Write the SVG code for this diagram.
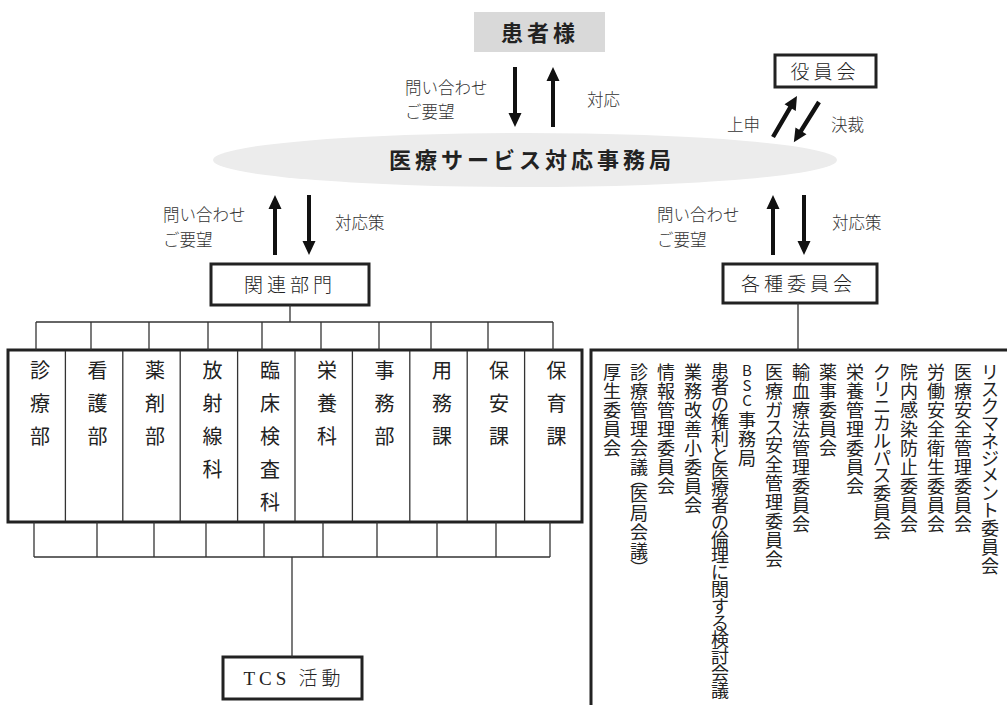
<svg xmlns="http://www.w3.org/2000/svg" width="1007" height="705" viewBox="0 0 1007 705">
<style>
  text { font-family: "Noto Sans CJK JP", "Noto Sans CJK SC", sans-serif; fill: #222; }
  .title { font-size: 22px; font-weight: bold; letter-spacing: 4px; text-anchor: middle; }
  .lbl { font-size: 16.5px; font-weight: 300; fill: #333; }
  .boxt { font-size: 19px; font-weight: 300; letter-spacing: 4px; text-anchor: middle; }
  .thick { fill: #fff; stroke: #222; stroke-width: 3; }
  .thin { fill: none; stroke: #333; stroke-width: 1.3; }
  .dept { font-size: 20px; writing-mode: vertical-rl; text-orientation: upright; letter-spacing: 13px; }
  .com { font-size: 18px; text-anchor: middle; }
  .arr { fill: #111; }
</style>
<defs>
  <path id="arrL" d="M-2,0 V-46 H-6.5 L0,-60 L6.5,-46 H2 V0 Z"/>
  <path id="arrS" d="M-2.2,0 V-34 H-6.5 L0,-47.5 L6.5,-34 H2.2 V0 Z"/>
</defs>

<g id="node-patient">
  <rect x="474" y="12" width="131" height="40" fill="#d9d9d9"/>
  <text class="title" x="540" y="41">患者様</text>
</g>

<g id="node-office">
  <ellipse cx="525" cy="160" rx="312" ry="27" fill="#ececec"/>
  <text class="title" x="532" y="168">医療サービス対応事務局</text>
</g>

<g id="node-board">
  <rect class="thick" x="775" y="55" width="101" height="32" stroke-width="2.5"/>
  <text class="boxt" x="825" y="79">役員会</text>
</g>

<g id="node-related">
  <rect class="thick" x="211" y="264" width="158" height="41" stroke-width="2.5"/>
  <text class="boxt" x="290" y="292">関連部門</text>
</g>

<g id="node-committees">
  <rect class="thick" x="723" y="264" width="154" height="39" stroke-width="2.5"/>
  <text class="boxt" x="798.5" y="291">各種委員会</text>
</g>

<g id="node-departments">
  <rect class="thick" x="8" y="350" width="574" height="172"/>
  <g class="thin">
    <line x1="65.4" y1="351" x2="65.4" y2="521"/>
    <line x1="122.8" y1="351" x2="122.8" y2="521"/>
    <line x1="180.2" y1="351" x2="180.2" y2="521"/>
    <line x1="237.6" y1="351" x2="237.6" y2="521"/>
    <line x1="295" y1="351" x2="295" y2="521"/>
    <line x1="352.4" y1="351" x2="352.4" y2="521"/>
    <line x1="409.8" y1="351" x2="409.8" y2="521"/>
    <line x1="467.2" y1="351" x2="467.2" y2="521"/>
    <line x1="524.6" y1="351" x2="524.6" y2="521"/>
  </g>
  <text class="dept" x="40" y="360">診療部</text>
  <text class="dept" x="97.5" y="360">看護部</text>
  <text class="dept" x="155" y="360">薬剤部</text>
  <text class="dept" x="212.5" y="360">放射線科</text>
  <text class="dept" x="270" y="360">臨床検査科</text>
  <text class="dept" x="327" y="360">栄養科</text>
  <text class="dept" x="384.5" y="360">事務部</text>
  <text class="dept" x="442" y="360">用務課</text>
  <text class="dept" x="499" y="360">保安課</text>
  <text class="dept" x="556.5" y="360">保育課</text>
</g>

<g id="node-committee-list">
  <path d="M591,706 V350 H1010" fill="none" stroke="#222" stroke-width="3"/>
  <text class="com" x="990 990 990 990 990 990 990 990 990 990 990 990" y="378.5 395.8 413.1 430.4 447.7 465 482.3 499.6 516.9 535 554 573">リスクマネジメント委員会</text>
  <text class="com" x="963 963 963 963 963 963 963 963 963" y="379.3 398.3 417.3 436.3 455.3 474.3 493.3 512.3 531.3">医療安全管理委員会</text>
  <text class="com" x="936 936 936 936 936 936 936 936 936" y="379.3 398.3 417.3 436.3 455.3 474.3 493.3 512.3 531.3">労働安全衛生委員会</text>
  <text class="com" x="909 909 909 909 909 909 909 909 909" y="379.3 398.3 417.3 436.3 455.3 474.3 493.3 512.3 531.3">院内感染防止委員会</text>
  <text class="com" x="882 882 882 882 882 882 882 882 882 882" y="378.5 395.8 413.1 430.4 447.7 465 482.3 500.4 519.4 538.4">クリニカルパス委員会</text>
  <text class="com" x="855 855 855 855 855 855 855" y="379.3 398.3 417.3 436.3 455.3 474.3 493.3">栄養管理委員会</text>
  <text class="com" x="828 828 828 828 828" y="379.3 398.3 417.3 436.3 455.3">薬事委員会</text>
  <text class="com" x="801 801 801 801 801 801 801 801 801" y="379.3 398.3 417.3 436.3 455.3 474.3 493.3 512.3 531.3">輸血療法管理委員会</text>
  <text class="com" x="774 774 774 774 774 774 774 774 774 774 774" y="379.3 398.3 416.5 433.8 451.9 470.9 489.9 508.9 527.9 546.9 565.9">医療ガス安全管理委員会</text>
  <text class="com" x="747 747 747 747 747 747" y="375.5 390.5 405.5 427.3 446.3 465.3"><tspan font-size="15">BSC</tspan>事務局</text>
  <text class="com" font-size="16.5" x="720 720 720 720 720 720 720 720 720 720 720 720 720 720 720 720 720 720 720 720" y="377.5 394.3 411.1 427.9 444.7 461.5 478.3 495.1 511.9 528.7 545.5 562.3 579.1 595.9 612.7 629.5 646.3 663.1 679.9 696.7">患者の権利と医療者の倫理に関する検討会議</text>
  <text class="com" x="693 693 693 693 693 693 693 693" y="379.3 398.3 417.3 436.3 455.3 474.3 493.3 512.3">業務改善小委員会</text>
  <text class="com" x="666 666 666 666 666 666 666" y="379.3 398.3 417.3 436.3 455.3 474.3 493.3">情報管理委員会</text>
  <text class="com" x="639 639 639 639 639 639 639 639 639 639 639 639" y="379.3 398.3 417.3 436.3 455.3 474.3 486 500.5 519.5 538.5 557.5 575">診療管理会議︵医局会議︶</text>
  <text class="com" x="612 612 612 612 612" y="379.3 398.3 417.3 436.3 455.3">厚生委員会</text>
</g>

<g id="node-tcs">
  <rect class="thick" x="223" y="657" width="139" height="42" stroke-width="2.5"/>
  <text x="294" y="685" font-size="19" letter-spacing="4" text-anchor="middle" font-weight="300" fill="#333"><tspan font-family="Liberation Serif">TCS</tspan> 活動</text>
</g>

<g id="connectors">
  <g class="thin">
    <line x1="290" y1="305" x2="290" y2="322"/>
    <line x1="36" y1="322" x2="553" y2="322"/>
    <line x1="36" y1="322" x2="36" y2="350"/>
    <line x1="91" y1="322" x2="91" y2="350"/>
    <line x1="149" y1="322" x2="149" y2="350"/>
    <line x1="208" y1="322" x2="208" y2="350"/>
    <line x1="262" y1="322" x2="262" y2="350"/>
    <line x1="321" y1="322" x2="321" y2="350"/>
    <line x1="379" y1="322" x2="379" y2="350"/>
    <line x1="431" y1="322" x2="431" y2="350"/>
    <line x1="488" y1="322" x2="488" y2="350"/>
    <line x1="553" y1="322" x2="553" y2="350"/>

    <line x1="34" y1="557" x2="550" y2="557"/>
    <line x1="34" y1="522" x2="34" y2="557"/>
    <line x1="97" y1="522" x2="97" y2="557"/>
    <line x1="154" y1="522" x2="154" y2="557"/>
    <line x1="206" y1="522" x2="206" y2="557"/>
    <line x1="264" y1="522" x2="264" y2="557"/>
    <line x1="323" y1="522" x2="323" y2="557"/>
    <line x1="377" y1="522" x2="377" y2="557"/>
    <line x1="437" y1="522" x2="437" y2="557"/>
    <line x1="496" y1="522" x2="496" y2="557"/>
    <line x1="550" y1="522" x2="550" y2="557"/>
    <line x1="292" y1="557" x2="292" y2="657"/>

    <line x1="798" y1="303" x2="798" y2="350"/>
  </g>

  <use href="#arrL" class="arr" transform="translate(515,67) rotate(180)"/>
  <use href="#arrL" class="arr" transform="translate(553,127)"/>
  <use href="#arrL" class="arr" transform="translate(275,255)"/>
  <use href="#arrL" class="arr" transform="translate(309,195) rotate(180)"/>
  <use href="#arrL" class="arr" transform="translate(773,255)"/>
  <use href="#arrL" class="arr" transform="translate(804,195) rotate(180)"/>
  <use href="#arrS" class="arr" transform="translate(773,137) rotate(30.3)"/>
  <use href="#arrS" class="arr" transform="translate(819,102) rotate(212)"/>

  <text class="lbl" x="405" y="94">問い合わせ</text>
  <text class="lbl" x="405" y="118">ご要望</text>
  <text class="lbl" x="587" y="106">対応</text>
  <text class="lbl" x="727" y="131">上申</text>
  <text class="lbl" x="831" y="131">決裁</text>
  <text class="lbl" x="163" y="221">問い合わせ</text>
  <text class="lbl" x="163" y="246">ご要望</text>
  <text class="lbl" x="335" y="229">対応策</text>
  <text class="lbl" x="657" y="221">問い合わせ</text>
  <text class="lbl" x="657" y="246">ご要望</text>
  <text class="lbl" x="832" y="229">対応策</text>
</g>
</svg>
